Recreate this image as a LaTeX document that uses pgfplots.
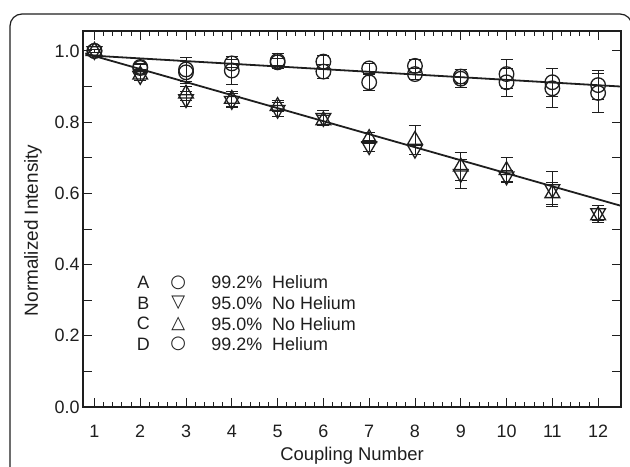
\documentclass[border=0pt]{standalone}
\usepackage{pgfplots}
\pgfplotsset{compat=1.18}
\usepackage{pgfplotstable}
\usepackage{fontspec}
\setmainfont{Liberation Sans}
\newfontfamily\symfont{DejaVu Sans}
\definecolor{ink}{HTML}{1E1E1E}

\pgfplotstableread{
x y e
1 1.000 0.005
2 0.955 0.010
3 0.948 0.035
4 0.965 0.012
5 0.972 0.022
6 0.970 0.018
7 0.951 0.015
8 0.958 0.018
9 0.928 0.020
10 0.935 0.040
11 0.912 0.040
12 0.904 0.040
}\dataA
\pgfplotstableread{
x y e
1 1.000 0.005
2 0.930 0.012
3 0.865 0.020
4 0.860 0.020
5 0.835 0.020
6 0.812 0.020
7 0.733 0.015
8 0.723 0.015
9 0.655 0.040
10 0.648 0.015
11 0.612 0.050
12 0.545 0.020
}\dataB
\pgfplotstableread{
x y e
1 1.000 0.005
2 0.933 0.015
3 0.880 0.020
4 0.865 0.020
5 0.845 0.015
6 0.805 0.015
7 0.755 0.015
8 0.750 0.040
9 0.675 0.040
10 0.665 0.035
11 0.600 0.030
12 0.538 0.020
}\dataC
\pgfplotstableread{
x y e
1 1.000 0.005
2 0.952 0.010
3 0.940 0.030
4 0.945 0.040
5 0.968 0.010
6 0.942 0.020
7 0.912 0.022
8 0.935 0.015
9 0.922 0.025
10 0.912 0.040
11 0.895 0.055
12 0.882 0.055
}\dataD

\begin{document}
\begin{tikzpicture}
\begin{axis}[
  scale only axis, width=538bp, height=376bp,
  xmin=0.75, xmax=12.5, ymin=0, ymax=1.056,
  xtick={1,...,12}, ytick={0,0.2,...,1.0},
  extra y ticks={0.1,0.3,0.5,0.7,0.9}, extra y tick labels={},
  minor x tick num=4,
  tick align=inside, xtick pos=both, ytick pos=both,
  major tick length=9bp, minor tick length=5bp,
  every tick/.style={ink, line width=0.9bp},
  axis line style={ink, line width=1.3bp},
  /pgf/number format/assume math mode=true,
  yticklabel style={/pgf/number format/fixed, /pgf/number format/fixed zerofill, /pgf/number format/precision=1},
  tick label style={font=\fontsize{18}{20}\selectfont, text=ink},
  xticklabel style={anchor=center, yshift=-24bp},
  xlabel={Coupling Number}, ylabel={Normalized Intensity},
  xlabel style={font=\fontsize{18.5}{20}\selectfont, text=ink, at={(axis description cs:0.5,0)}, anchor=center, yshift=-49bp},
  ylabel style={font=\fontsize{19}{20}\selectfont, text=ink, at={(axis description cs:-0.093,0.47)}, anchor=center},
  clip=false,
  error bars/error bar style={ink, line width=0.9bp},
  error bars/error mark options={ink, line width=0.9bp, rotate=90, mark size=6bp},
]
\addplot[ink, line width=1.8bp] coordinates {(0.8,0.993) (12.5,0.565)};
\addplot[ink, line width=1.8bp] coordinates {(0.8,0.988) (12.5,0.900)};
\addplot[only marks, mark=triangle, mark size=8.5bp, mark options={ink, fill=white, line width=1.3bp, rotate=180},
  error bars/.cd, y dir=both, y explicit] table[x=x, y=y, y error=e] {\dataB};
\addplot[only marks, mark=triangle, mark size=8.5bp, mark options={ink, fill=white, line width=1.3bp},
  error bars/.cd, y dir=both, y explicit] table[x=x, y=y, y error=e] {\dataC};
\addplot[only marks, mark=o, mark size=7.3bp, mark options={ink, fill=white, line width=1.3bp},
  error bars/.cd, y dir=both, y explicit] table[x=x, y=y, y error=e] {\dataD};
\addplot[only marks, mark=o, mark size=7.3bp, mark options={ink, fill=white, line width=1.3bp},
  error bars/.cd, y dir=both, y explicit] table[x=x, y=y, y error=e] {\dataA};
\begin{scope}[every node/.style={font=\fontsize{18}{20}\selectfont, text=ink, inner sep=0pt}]
\node at (axis cs:2.07,0.350) {A};
\node at (axis cs:2.07,0.292) {B};
\node at (axis cs:2.07,0.234) {C};
\node at (axis cs:2.07,0.176) {D};
\node at (axis cs:2.83,0.350) {\symfont ○};
\node at (axis cs:2.83,0.292) {\symfont ▽};
\node at (axis cs:2.83,0.234) {\symfont △};
\node at (axis cs:2.83,0.176) {\symfont ○};
\node[anchor=west] at (axis cs:3.55,0.350) {99.2\%\ \ Helium};
\node[anchor=west] at (axis cs:3.55,0.292) {95.0\%\ \ No Helium};
\node[anchor=west] at (axis cs:3.55,0.234) {95.0\%\ \ No Helium};
\node[anchor=west] at (axis cs:3.55,0.176) {99.2\%\ \ Helium};
\end{scope}
\end{axis}
\draw[ink, line width=1.2bp, rounded corners=12bp] (-73bp,-90bp) rectangle (549bp,393bp);
\pgfresetboundingbox
\path[use as bounding box] (-83bp,-60bp) rectangle (547bp,407bp);
\end{tikzpicture}
\end{document}
